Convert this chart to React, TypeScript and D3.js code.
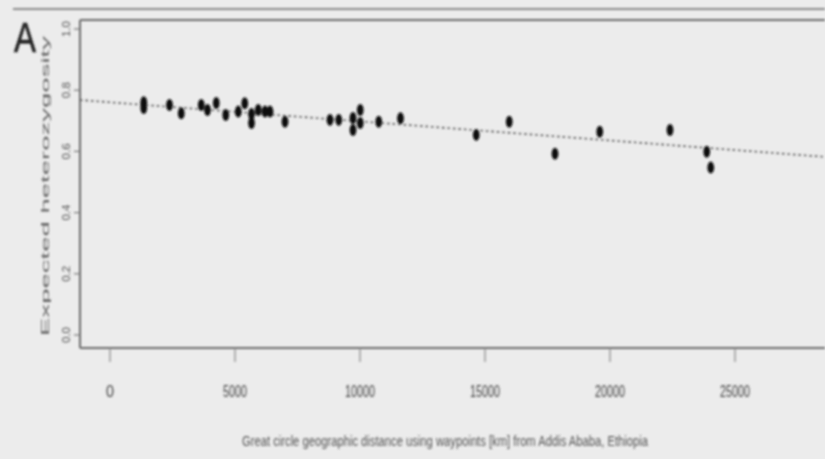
import React from "react";
import * as d3 from "d3";

// Data (distance km, expected heterozygosity)
const distances = [
  1350, 1350, 2380, 2850, 3650, 3900, 4250, 4630, 5130, 5390, 5660, 5660,
  5930, 6200, 6400, 7000, 8800, 9150, 9720, 9720, 10010, 10010, 10750, 11620,
  14650, 15970, 17800, 19590, 22400, 23870, 24030,
];
const heterozygosity = [
  0.761, 0.742, 0.752, 0.725, 0.752, 0.735, 0.758, 0.719, 0.730, 0.757, 0.722, 0.693,
  0.735, 0.730, 0.730, 0.697, 0.703, 0.703, 0.709, 0.670, 0.735, 0.693, 0.697, 0.708,
  0.654, 0.697, 0.592, 0.664, 0.670, 0.599, 0.547,
];
const regressionDist = [-1200, 28600];
const regressionH = [0.768, 0.582];
const xTicks = [0, 5000, 10000, 15000, 20000, 25000];
const yTicks = [0.0, 0.2, 0.4, 0.6, 0.8, 1.0];
const yTickLabels = ["0.0", "0.2", "0.4", "0.6", "0.8", "1.0"];

const W = 825;
const H = 459;

export default function App() {
  const x = d3.scaleLinear().domain([0, 25000]).range([110, 735]);
  const y = d3.scaleLinear().domain([0, 1]).range([335, 29]);
  const plotLeft = 80;
  const plotTop = 20;
  const plotBottom = 348;
  const line = d3
    .line<number>()
    .x((_, i) => x(regressionDist[i]))
    .y((_, i) => y(regressionH[i]));
  const pts = distances.map((d, i) => ({ d, h: heterozygosity[i] }));
  const xLabelWidth = (s: string) => (s.length === 1 ? 8 : s.length * 6);

  return (
    <svg
      width={W}
      height={H}
      style={{ position: "absolute", left: 0, top: 0, background: "#ececec" }}
      fontFamily="Liberation Sans, Arial, sans-serif"
    >
      <defs>
        <filter id="soft" x="-5%" y="-5%" width="110%" height="110%">
          <feGaussianBlur stdDeviation="0.8" />
        </filter>
        <clipPath id="plotclip">
          <rect x={plotLeft} y={plotTop} width={W - plotLeft} height={plotBottom - plotTop} />
        </clipPath>
      </defs>
      <rect x={0} y={0} width={W} height={H} fill="#ececec" />
      <g filter="url(#soft)">
        {/* figure frame line */}
        <line x1={13} x2={W} y1={9} y2={9} stroke="#8a8a8a" strokeWidth={2} />
        {/* plot box */}
        <line x1={plotLeft} x2={W} y1={plotTop} y2={plotTop} stroke="#6a6a6a" strokeWidth={2} />
        <line x1={plotLeft} x2={plotLeft} y1={plotTop} y2={plotBottom} stroke="#6a6a6a" strokeWidth={2} />
        <line x1={plotLeft} x2={W} y1={plotBottom} y2={plotBottom} stroke="#6a6a6a" strokeWidth={2} />

        {/* Panel letter */}
        <text x={14} y={52} fontSize={42} fill="#222" stroke="#222" strokeWidth={0.6} textLength={22} lengthAdjust="spacingAndGlyphs">
          A
        </text>

        {/* Y axis ticks */}
        {yTicks.map((t, i) => (
          <g key={"y" + t}>
            <line x1={74} x2={plotLeft} y1={y(t)} y2={y(t)} stroke="#777" strokeWidth={1.2} />
            <text
              transform={`translate(${70},${y(t)}) rotate(-90)`}
              textAnchor="middle"
              fontSize={10}
              fill="#555"
              textLength={16}
              lengthAdjust="spacingAndGlyphs"
            >
              {yTickLabels[i]}
            </text>
          </g>
        ))}
        <text
          transform={`translate(49,186) rotate(-90)`}
          textAnchor="middle"
          fontSize={11}
          fill="#666"
          textLength={300}
          lengthAdjust="spacingAndGlyphs"
        >
          Expected heterozygosity
        </text>

        {/* X axis ticks */}
        {xTicks.map((t) => (
          <g key={"x" + t}>
            <line x1={x(t)} x2={x(t)} y1={plotBottom} y2={362} stroke="#888" strokeWidth={1.2} />
            <text
              x={x(t)}
              y={397}
              textAnchor="middle"
              fontSize={17}
              fill="#444"
              textLength={xLabelWidth(String(t))}
              lengthAdjust="spacingAndGlyphs"
            >
              {String(t)}
            </text>
          </g>
        ))}
        <text
          x={445}
          y={446}
          textAnchor="middle"
          fontSize={14}
          fill="#555"
          textLength={406}
          lengthAdjust="spacingAndGlyphs"
        >
          Great circle geographic distance using waypoints [km] from Addis Ababa, Ethiopia
        </text>

        {/* regression line and points */}
        <g clipPath="url(#plotclip)">
          <path
            d={line(regressionDist) || ""}
            fill="none"
            stroke="#555"
            strokeWidth={1.6}
            strokeDasharray="2.5,3"
          />
          {pts.map((p, i) => (
            <ellipse key={i} cx={x(p.d)} cy={y(p.h)} rx={3.4} ry={6} fill="#111" />
          ))}
        </g>
      </g>
    </svg>
  );
}
